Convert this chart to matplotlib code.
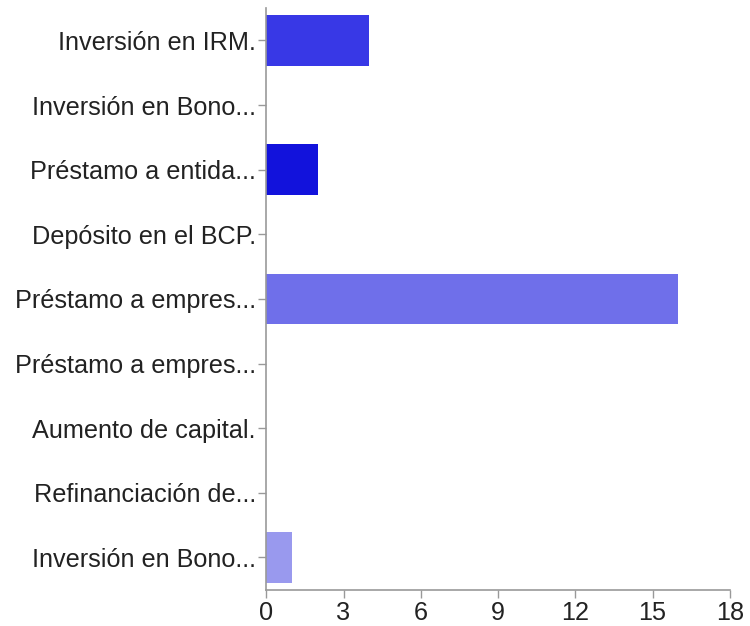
import matplotlib
matplotlib.use("Agg")
import matplotlib.pyplot as plt

categories = ["Inversión en IRM.", "Inversión en Bono...", "Préstamo a entida...",
              "Depósito en el BCP.", "Préstamo a empres...", "Préstamo a empres...",
              "Aumento de capital.", "Refinanciación de...", "Inversión en Bono..."]
values = [4, 0, 2, 0, 16, 0, 0, 0, 1]
colors = ["#3838e6", "#3838e6", "#1212dc", "#1212dc", "#6f6fea", "#6f6fea",
          "#9999ee", "#9999ee", "#9999ee"]
xticks = [0, 3, 6, 9, 12, 15, 18]

plt.rcParams['font.family'] = ['Liberation Sans', 'DejaVu Sans']
fig = plt.figure(figsize=(7.5, 6.26), dpi=100)
ax = fig.add_axes([0.355, 0.058, 0.618, 0.929])
pos = list(range(len(categories)))
ax.barh(pos, values, height=0.78, color=colors, edgecolor="none")
ax.set_ylim(len(categories) - 0.5, -0.5)
ax.set_xlim(0, 18)
ax.set_xticks(xticks)
ax.set_yticks(pos)
ax.set_yticklabels(categories)
for s in ["top", "right"]:
    ax.spines[s].set_visible(False)
for s in ["left", "bottom"]:
    ax.spines[s].set_color("#999999")
    ax.spines[s].set_linewidth(1.2)
ax.tick_params(axis="both", colors="#999999", labelcolor="#222222", labelsize=18.2, length=6, width=1)
ax.tick_params(axis="y", pad=1.5)
ax.tick_params(axis="x", pad=2)
fig.savefig("out.png", dpi=100)
